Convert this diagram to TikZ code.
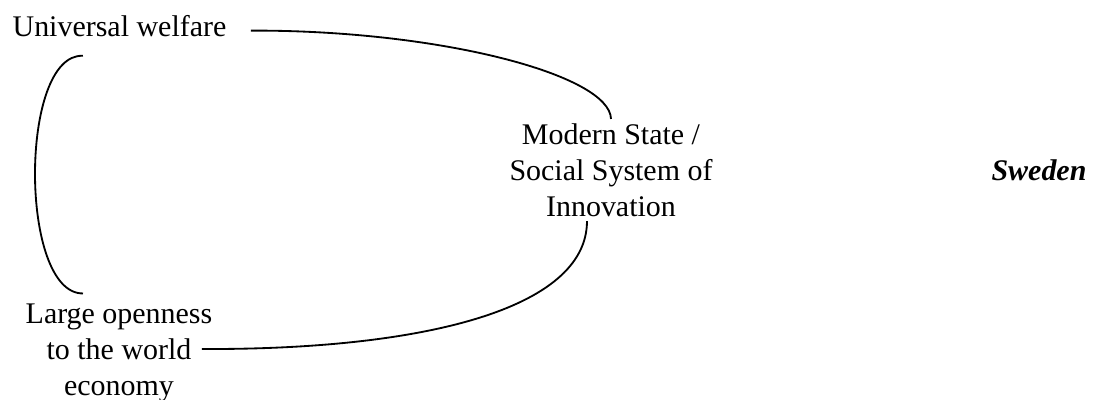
\documentclass[tikz,border=0pt]{standalone}
\usepackage{fontspec}
\setmainfont{Liberation Serif}
\usetikzlibrary{arrows,positioning}
\tikzset{
    %Define style for text blocks
    punkt/.style={
           inner sep=3pt,
           align=center,
           font=\fontsize{21.3pt}{25.6pt}\selectfont},
    %Define style for the country label
    punktland/.style={
           punkt,
           font=\fontsize{21.3pt}{25.6pt}\selectfont\bfseries\itshape},
    % Define line style
    pil/.style={
           -,
           line width=1.3pt}
}

\begin{document}
\begin{tikzpicture}[x=0.025cm,y=-0.025cm,main node/.style={punkt}]
\useasboundingbox (0,0) rectangle (1093,400);
 %nodes
\node[main node, anchor=base](welfare) at (119.5,37){Universal welfare};
\node[main node](state) at (611,170){Modern State /\\Social System of\\Innovation};
\node[main node](open) at (119,353){Large openness\\to the world\\economy};
\node[punktland](sweden) at (1039,170){Sweden};

 %links
\draw[pil] ([xshift=0.5cm,yshift=-0.1cm]welfare.east)
    .. controls (440,30) and (610,75) .. (state.north);
\draw[pil] ([xshift=-0.375cm,yshift=0.1cm]open.east)
    .. controls (420,350) and (587,310) .. ([xshift=-0.6cm]state.south);
\draw[pil] ([xshift=-0.9125cm,yshift=-0.35cm]welfare.south)
    .. controls (19,53) and (19,294) .. ([xshift=-0.9cm,yshift=0.15cm]open.north);

\end{tikzpicture}
\end{document}
